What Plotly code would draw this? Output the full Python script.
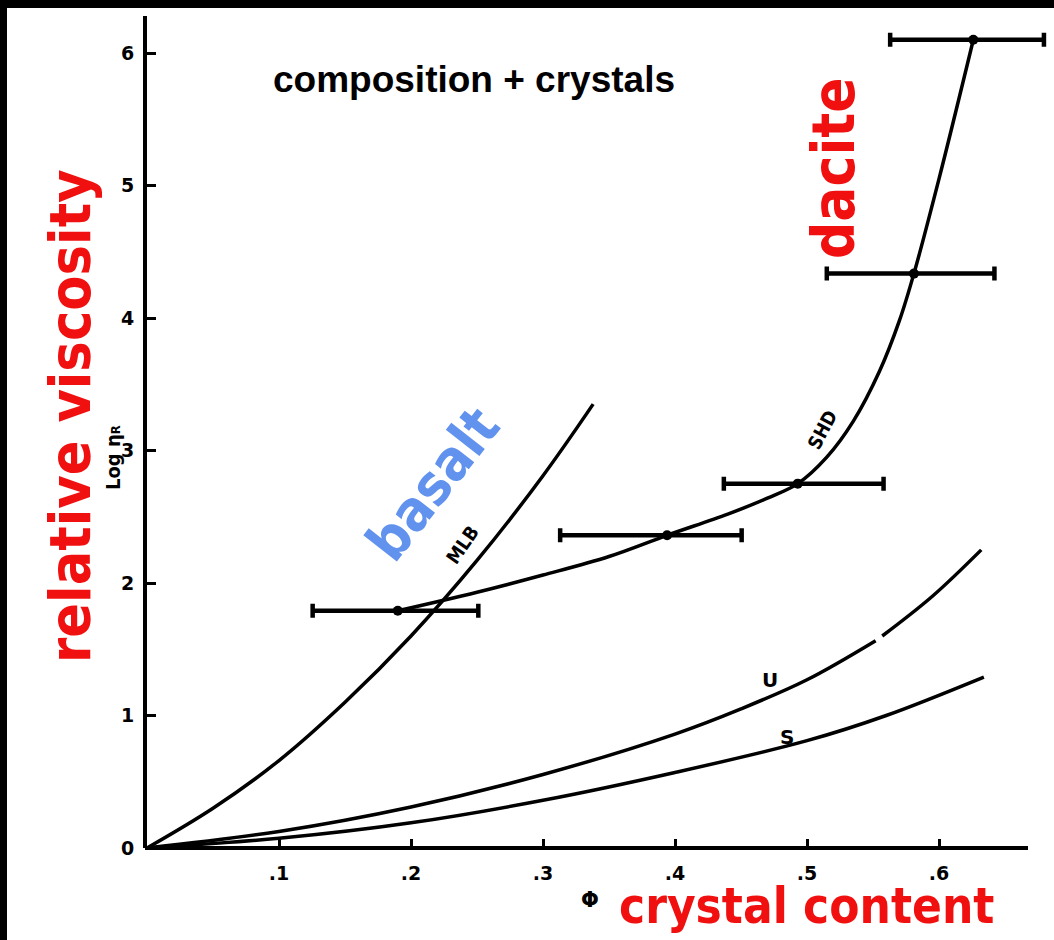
import plotly.graph_objects as go

# ---- data ----
phi_basalt = [0, 0.05, 0.10, 0.15, 0.20, 0.25, 0.30, 0.338]
log_basalt = [0, 0.30, 0.66, 1.10, 1.60, 2.17, 2.81, 3.35]

phi_dacite = [0.19, 0.25, 0.30, 0.35, 0.394, 0.44, 0.47, 0.493, 0.515, 0.535, 0.555, 0.57, 0.581, 0.60, 0.626]
log_dacite = [1.79, 1.93, 2.06, 2.20, 2.36, 2.52, 2.64, 2.75, 2.95, 3.22, 3.60, 3.98, 4.335, 5.05, 6.10]

phi_dacite_pts = [0.19, 0.394, 0.493, 0.581, 0.626]
log_dacite_pts = [1.79, 2.36, 2.75, 4.335, 6.10]
err_minus = [0.0645, 0.081, 0.056, 0.066, 0.063]
err_plus = [0.061, 0.0565, 0.065, 0.061, 0.0535]

phi_U = [0, 0.10, 0.20, 0.30, 0.40, 0.45, 0.50, 0.552, None, 0.557, 0.595, 0.632]
log_U = [0, 0.125, 0.31, 0.555, 0.86, 1.05, 1.27, 1.565, None, 1.60, 1.90, 2.25]

phi_S = [0, 0.10, 0.20, 0.30, 0.40, 0.50, 0.56, 0.634]
log_S = [0, 0.073, 0.19, 0.36, 0.57, 0.81, 1.00, 1.29]

x_tickvals = [0.1, 0.2, 0.3, 0.4, 0.5, 0.6]
x_ticktext = [".1", ".2", ".3", ".4", ".5", ".6"]
y_tickvals = [0, 1, 2, 3, 4, 5, 6]
y_ticktext = ["0", "1", "2", "3", "4", "5", "6"]

# ---- geometry ----
W, H = 1054, 940
ML, MR, MT, MB = 147, 6, 16, 92
PX_PER_X = 1320.0   # pixels per unit phi
PX_PER_Y = 132.5    # pixels per unit log eta
PW = W - ML - MR
PH = H - MT - MB
x_max = PW / PX_PER_X
y_max = PH / PX_PER_Y
AXIS_END_PX = 1028  # where the drawn x-axis line stops

def PX(px):
    return (px - ML) / PW

def PY(py):
    return (H - MB - py) / PH

fig = go.Figure()
line_style = dict(color="black", width=3.5, shape="spline", smoothing=1)

fig.add_trace(go.Scatter(x=phi_basalt, y=log_basalt, mode="lines", line=line_style,
                         hoverinfo="skip", showlegend=False))
fig.add_trace(go.Scatter(x=phi_dacite, y=log_dacite, mode="lines", line=line_style,
                         hoverinfo="skip", showlegend=False))
fig.add_trace(go.Scatter(x=phi_U, y=log_U, mode="lines", line=line_style,
                         connectgaps=False, hoverinfo="skip", showlegend=False))
fig.add_trace(go.Scatter(x=phi_S, y=log_S, mode="lines", line=line_style,
                         hoverinfo="skip", showlegend=False))
fig.add_trace(go.Scatter(
    x=phi_dacite_pts, y=log_dacite_pts, mode="markers",
    marker=dict(color="black", size=10),
    error_x=dict(type="data", symmetric=False, array=err_plus, arrayminus=err_minus,
                 color="black", thickness=4.5, width=7),
    hoverinfo="skip", showlegend=False))

hand = "DejaVu Sans Condensed, DejaVu Sans"
red = "#f01010"
blue = "#6092ee"
ann = []
ann.append(dict(x=PX(474), y=PY(80), text="<b>composition + crystals</b>",
                font=dict(family="Liberation Sans, Arial", size=37, color="black")))
ann.append(dict(x=PX(70), y=PY(416), text="<b>relative viscosity</b>", textangle=-90,
                font=dict(family=hand, size=57, color=red)))
ann.append(dict(x=PX(806), y=PY(906), text="<b>crystal content</b>",
                font=dict(family=hand, size=49, color=red)))
ann.append(dict(x=PX(432), y=PY(484), text="<b>basalt</b>", textangle=-52,
                font=dict(family=hand, size=56, color=blue)))
ann.append(dict(x=PX(834), y=PY(168), text="<b>dacite</b>", textangle=-90,
                font=dict(family=hand, size=58, color=red)))
ann.append(dict(x=PX(462), y=PY(545), text="<b>MLB</b>", textangle=-55,
                font=dict(family="DejaVu Sans Condensed, DejaVu Sans", size=19, color="black")))
ann.append(dict(x=PX(822), y=PY(430), text="<b>SHD</b>", textangle=-62,
                font=dict(family="DejaVu Sans Condensed, DejaVu Sans", size=19, color="black")))
ann.append(dict(x=PX(770), y=PY(680), text="<b>U</b>",
                font=dict(family="DejaVu Sans", size=20, color="black")))
ann.append(dict(x=PX(787), y=PY(737), text="<b>S</b>",
                font=dict(family="DejaVu Sans", size=20, color="black")))
ann.append(dict(x=PX(113), y=PY(458),
                text="<b>Log η<span style='font-size:13px'>R</span></b>", textangle=-90,
                font=dict(family="DejaVu Sans Condensed, DejaVu Sans", size=20, color="black")))
ann.append(dict(x=PX(590), y=PY(900), text="<b>Φ</b>",
                font=dict(family="DejaVu Sans", size=21, color="black")))
for a in ann:
    a.update(xref="paper", yref="paper", showarrow=False,
             xanchor="center", yanchor="middle")

axis_font = dict(family="DejaVu Sans", size=19, color="black", weight="bold")
fig.update_layout(
    width=W, height=H,
    margin=dict(l=ML, r=MR, t=MT, b=MB, pad=0),
    paper_bgcolor="white", plot_bgcolor="white",
    annotations=ann,
    xaxis=dict(range=[0, x_max], tickvals=x_tickvals, ticktext=x_ticktext,
               showgrid=False, zeroline=False, showline=False,
               ticks="inside", ticklen=9, tickwidth=2.5, tickcolor="black",
               tickfont=axis_font, ticklabelstandoff=12),
    yaxis=dict(range=[0, y_max], tickvals=y_tickvals, ticktext=y_ticktext,
               showgrid=False, zeroline=False, showline=True, linecolor="black", linewidth=4,
               ticks="inside", ticklen=9, tickwidth=2.5, tickcolor="black",
               tickfont=axis_font, ticklabelstandoff=5),
    shapes=[
        # x-axis line, stopping short of the plot's right edge as in the original
        dict(type="line", xref="x domain", yref="y domain",
             x0=-2 / PW, x1=(AXIS_END_PX - ML) / PW, y0=0, y1=0,
             line=dict(color="black", width=4), layer="above"),
        # black frame bands (left and top)
        dict(type="rect", xref="paper", yref="paper",
             x0=(0 - ML) / PW, x1=(7 - ML) / PW,
             y0=(H - MB - H) / PH, y1=(H - MB - 0) / PH,
             fillcolor="black", line=dict(width=0), layer="above"),
        dict(type="rect", xref="paper", yref="paper",
             x0=(0 - ML) / PW, x1=(W - ML) / PW,
             y0=(H - MB - 8) / PH, y1=(H - MB - 0) / PH,
             fillcolor="black", line=dict(width=0), layer="above"),
    ],
)

fig.write_html("out.html", config={"displayModeBar": False},
               post_script="document.body.style.margin='0';document.body.style.overflow='hidden';")
